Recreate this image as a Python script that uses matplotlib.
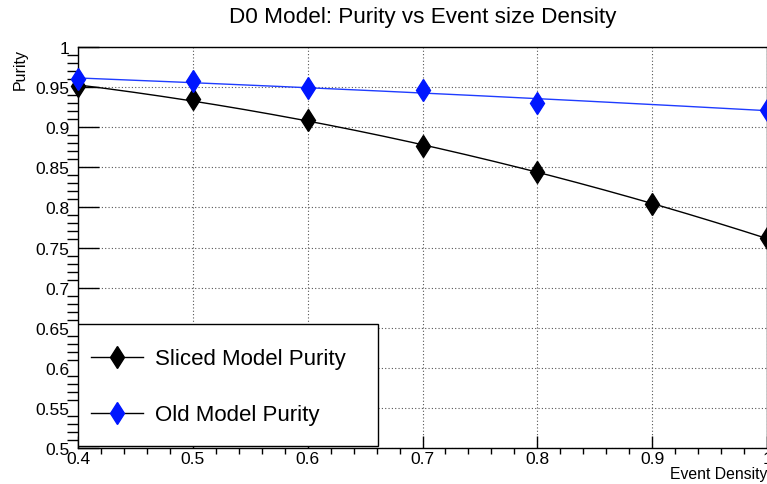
import matplotlib
matplotlib.use('Agg')
import matplotlib.pyplot as plt
from matplotlib.ticker import MultipleLocator
from matplotlib.patches import Rectangle
import numpy as np

plt.rcParams['font.family'] = ['Liberation Sans', 'DejaVu Sans']

# data
density_sliced = [0.4, 0.5, 0.6, 0.7, 0.8, 0.9, 1.0]
purity_sliced = [0.951, 0.935, 0.909, 0.876, 0.844, 0.804, 0.762]
density_old = [0.4, 0.5, 0.6, 0.7, 0.8, 1.0]
purity_old = [0.960, 0.957, 0.949, 0.947, 0.930, 0.922]

fig = plt.figure(figsize=(7.67, 4.85), dpi=100)
ax = fig.add_axes([78/767, 36/485, 689/767, 401/485])

# smooth fit curves (like ROOT TF1 fits)
xf = np.linspace(0.4, 1.0, 200)
c1 = np.polyfit(density_sliced, purity_sliced, 2)
c2 = np.polyfit(density_old, purity_old, 2)
ax.plot(xf, np.polyval(c1, xf), color='black', lw=1.0, zorder=3)
ax.plot(xf, np.polyval(c2, xf), color='#1f3cff', lw=1.0, zorder=3)

ax.plot(density_sliced, purity_sliced, 'd', color='black', ms=11.5, clip_on=False, zorder=4)
ax.plot(density_old, purity_old, 'd', color='#0016ff', ms=11.5, clip_on=False, zorder=4)

# legend box drawn by hand (ROOT TLegend look)
box = Rectangle((0, 0.005), 0.436, 0.304, transform=ax.transAxes,
                facecolor='white', edgecolor='black', lw=1.0, zorder=9)
ax.add_patch(box)

h1, = ax.plot([], [], '-d', color='black', ms=11.5, lw=1.0)
h2, = ax.plot([], [], '-d', color='black', mfc='#0016ff', mec='#0016ff', ms=11.5, lw=1.0)
leg = ax.legend([h1, h2], ['Sliced Model Purity', 'Old Model Purity'],
                loc='center left', bbox_to_anchor=(0, 0.1525),
                fontsize=16, frameon=False, borderaxespad=0,
                handlelength=2.34, handletextpad=0.54, labelspacing=1.58,
                borderpad=0.6)
leg.set_zorder(10)

ax.set_xlim(0.4, 1.0)
ax.set_ylim(0.5, 1.0)
ax.xaxis.set_major_locator(MultipleLocator(0.1))
ax.xaxis.set_minor_locator(MultipleLocator(0.02))
ax.yaxis.set_major_locator(MultipleLocator(0.05))
ax.yaxis.set_minor_locator(MultipleLocator(0.01))
ax.xaxis.set_major_formatter(plt.FuncFormatter(lambda v, p: ('%g' % round(v, 2))))
ax.yaxis.set_major_formatter(plt.FuncFormatter(lambda v, p: ('%g' % round(v, 2))))

ax.tick_params(axis='both', direction='in', labelsize=12.5, width=1.0, color='black')
ax.tick_params(axis='y', which='major', length=15, pad=6)
ax.tick_params(axis='y', which='minor', length=8, width=1.0)
ax.tick_params(axis='x', which='major', length=9, pad=2)
ax.tick_params(axis='x', which='minor', length=4.5, width=1.0)

ax.grid(True, which='major', color='#555555', linestyle=(0, (1, 2)), lw=0.8)
for s in ax.spines.values():
    s.set_linewidth(1.0)

fig.text(0.551, 1 - 17/485, 'D0 Model: Purity vs Event size Density',
         ha='center', va='center', fontsize=16.2)
fig.text(20/767, 1 - 49/485, 'Purity', rotation=90, ha='center', va='top', fontsize=11.5)
fig.text(1.0, 1 - 475/485, 'Event Density', ha='right', va='center', fontsize=11.3)

fig.savefig('out.png', dpi=100)
